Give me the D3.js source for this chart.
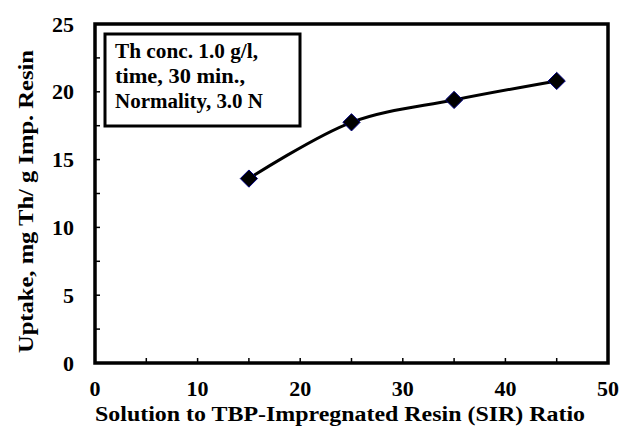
<!DOCTYPE html>
<html>
<head>
<meta charset="utf-8">
<script src="https://cdn.jsdelivr.net/npm/d3@7"></script>
<style>
body { margin: 0; background: #fff; }
</style>
</head>
<body>
<div id="chart"></div>
<script>
// données
const ratio = [15, 25, 35, 45];
const uptake = [13.6, 17.75, 19.4, 20.8];
const xTicks = [0, 10, 20, 30, 40, 50];
const yTicks = [0, 5, 10, 15, 20, 25];
const noteLines = ["Th conc. 1.0 g/l,", "time, 30 min.,", "Normality, 3.0 N"];

const width = 622, height = 430;
const margin = {top: 24, right: 14, bottom: 67, left: 95};
const police = "Liberation Serif";

const svg = d3.select("#chart")
	.append("svg")
	.attr("width", width)
	.attr("height", height);

const x = d3.scaleLinear().domain([0, 50]).range([margin.left, width - margin.right]);
const y = d3.scaleLinear().domain([0, 25]).range([height - margin.bottom, margin.top]);

// petites graduations intérieures
const g = svg.append("g");

g.selectAll("line.xt")
	.data(d3.range(0, 50.01, 5))
	.enter()
	.append("line")
	.attr("x1", d => x(d)).attr("x2", d => x(d))
	.attr("y1", y(0)).attr("y2", y(0) - 5)
	.style("stroke", "#000").style("stroke-width", 1.5);

g.selectAll("line.yt")
	.data(d3.range(0, 25.01, 2.5))
	.enter()
	.append("line")
	.attr("x1", x(0)).attr("x2", x(0) + 5)
	.attr("y1", d => y(d)).attr("y2", d => y(d))
	.style("stroke", "#000").style("stroke-width", 1.5);

// cadre
svg.append("rect")
	.attr("x", x(0)).attr("y", y(25))
	.attr("width", x(50) - x(0)).attr("height", y(0) - y(25))
	.style("fill", "none").style("stroke", "#000").style("stroke-width", 3.5);

// étiquettes
svg.selectAll("text.xl")
	.data(xTicks)
	.enter()
	.append("text")
	.attr("x", d => x(d)).attr("y", y(0) + 33)
	.attr("text-anchor", "middle")
	.style("font-family", police).style("font-weight", "bold")
	.style("font-size", "22px")
	.text(d => d);

svg.selectAll("text.yl")
	.data(yTicks)
	.enter()
	.append("text")
	.attr("x", x(0) - 21).attr("y", d => y(d) + 7.5)
	.attr("text-anchor", "end")
	.style("font-family", police).style("font-weight", "bold")
	.style("font-size", "22px")
	.text(d => d);

svg.append("text")
	.attr("x", 95).attr("y", 421)
	.attr("textLength", 490)
	.attr("lengthAdjust", "spacingAndGlyphs")
	.style("font-family", police).style("font-weight", "bold")
	.style("font-size", "20px")
	.text("Solution to TBP-Impregnated Resin (SIR) Ratio");

svg.append("text")
	.attr("transform", "translate(33,353) rotate(-90)")
	.attr("textLength", 303)
	.attr("lengthAdjust", "spacingAndGlyphs")
	.style("font-family", police).style("font-weight", "bold")
	.style("font-size", "21px")
	.text("Uptake, mg Th/ g Imp. Resin");

// encadré
svg.append("rect")
	.attr("x", 105).attr("y", 34)
	.attr("width", 195).attr("height", 92)
	.style("fill", "#fff").style("stroke", "#000").style("stroke-width", 3);

const noteLen = [143, 130, 148];

svg.selectAll("text.note")
	.data(noteLines)
	.enter()
	.append("text")
	.attr("x", 115).attr("y", (d, i) => 58 + i * 25)
	.attr("textLength", (d, i) => noteLen[i])
	.attr("lengthAdjust", "spacingAndGlyphs")
	.style("font-family", police).style("font-weight", "bold")
	.style("font-size", "20px")
	.text(d => d);

// courbe
const pts = ratio.map((d, i) => [d, uptake[i]]);

svg.append("path")
	.datum(pts)
	.attr("d", d3.line().x(d => x(d[0])).y(d => y(d[1])).curve(d3.curveCatmullRom))
	.style("fill", "none").style("stroke", "#000").style("stroke-width", 3);

svg.selectAll("path.pt")
	.data(pts)
	.enter()
	.append("path")
	.attr("transform", d => "translate(" + x(d[0]) + "," + y(d[1]) + ")")
	.attr("d", d3.symbol(d3.symbolDiamond2, 190))
	.style("fill", "#000").style("stroke", "#000080").style("stroke-width", 1);
</script>
</body>
</html>
